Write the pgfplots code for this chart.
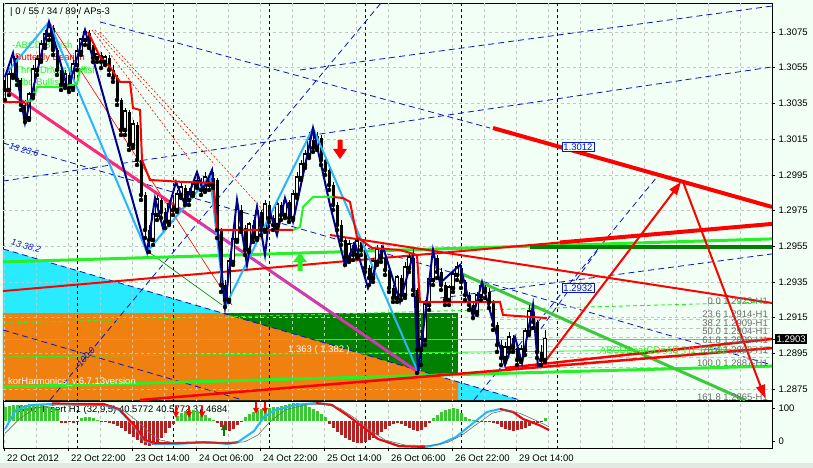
\documentclass[border=0pt]{standalone}
\usepackage{fontspec}
\setmainfont{Liberation Sans}
\usepackage{pgfplots}
\usepackage{pgfplotstable}
\pgfplotsset{compat=1.18}
\usetikzlibrary{arrows.meta}

\definecolor{chartbg}{RGB}{242,255,245}
\definecolor{stripgray}{RGB}{226,232,226}
\definecolor{bidgray}{RGB}{160,160,160}
\definecolor{siggray}{RGB}{110,110,110}
\definecolor{gridgray}{RGB}{196,196,196}
\definecolor{cyanfill}{RGB}{40,235,255}
\definecolor{orangefill}{RGB}{240,128,16}
\definecolor{dkgreen}{RGB}{0,128,0}
\definecolor{limeg}{RGB}{40,240,40}
\definecolor{midgreen}{RGB}{60,200,60}
\definecolor{navyz}{RGB}{0,0,140}
\definecolor{navyd}{RGB}{10,20,200}
\definecolor{ltblue}{RGB}{40,180,255}
\definecolor{redl}{RGB}{255,0,0}
\definecolor{pinkl}{RGB}{255,40,120}
\definecolor{violetl}{RGB}{140,80,255}
\definecolor{histgreen}{RGB}{60,200,50}
\definecolor{histred}{RGB}{178,34,34}
\definecolor{fibgray}{RGB}{110,110,110}

\pgfplotsset{
  gridl/.style={draw=gridgray, dash pattern=on 3pt off 3pt, line width=0.6pt},
  daysep/.style={draw=black, dash pattern=on 3pt off 3pt, line width=0.7pt},
  bluedash/.style={draw=navyd, dash pattern=on 6pt off 4pt, line width=0.8pt},
  bull/.style={restrict expr to domain={\thisrow{C}-\thisrow{O}}{0:1}},
  bear/.style={restrict expr to domain={\thisrow{O}-\thisrow{C}}{0.000001:1}},
}

% arrow-shaped plot marks
\pgfdeclareplotmark{bigdown}{%
  \pgfpathmoveto{\pgfqpoint{-2.5pt}{10pt}}\pgfpathlineto{\pgfqpoint{2.5pt}{10pt}}%
  \pgfpathlineto{\pgfqpoint{2.5pt}{1pt}}\pgfpathlineto{\pgfqpoint{7pt}{1pt}}%
  \pgfpathlineto{\pgfqpoint{0pt}{-9pt}}\pgfpathlineto{\pgfqpoint{-7pt}{1pt}}%
  \pgfpathlineto{\pgfqpoint{-2.5pt}{1pt}}\pgfpathclose\pgfusepathqfill}
\pgfdeclareplotmark{bigup}{%
  \pgfpathmoveto{\pgfqpoint{-2.5pt}{-9pt}}\pgfpathlineto{\pgfqpoint{2.5pt}{-9pt}}%
  \pgfpathlineto{\pgfqpoint{2.5pt}{0pt}}\pgfpathlineto{\pgfqpoint{7pt}{0pt}}%
  \pgfpathlineto{\pgfqpoint{0pt}{9pt}}\pgfpathlineto{\pgfqpoint{-7pt}{0pt}}%
  \pgfpathlineto{\pgfqpoint{-2.5pt}{0pt}}\pgfpathclose\pgfusepathqfill}
\pgfdeclareplotmark{smalldown}{%
  \pgfsetlinewidth{1.2pt}%
  \pgfpathmoveto{\pgfqpoint{0pt}{6pt}}\pgfpathlineto{\pgfqpoint{0pt}{-1pt}}\pgfusepathqstroke
  \pgfpathmoveto{\pgfqpoint{-3pt}{0pt}}\pgfpathlineto{\pgfqpoint{3pt}{0pt}}%
  \pgfpathlineto{\pgfqpoint{0pt}{-6pt}}\pgfpathclose\pgfusepathqfill}
\pgfdeclareplotmark{smallup}{%
  \pgfsetlinewidth{1.2pt}%
  \pgfpathmoveto{\pgfqpoint{0pt}{-6pt}}\pgfpathlineto{\pgfqpoint{0pt}{1pt}}\pgfusepathqstroke
  \pgfpathmoveto{\pgfqpoint{-3pt}{0pt}}\pgfpathlineto{\pgfqpoint{3pt}{0pt}}%
  \pgfpathlineto{\pgfqpoint{0pt}{6pt}}\pgfpathclose\pgfusepathqfill}

% EURUSD H1 candles: bar position, open, high, low, close
\pgfplotstableread{
x O H L C
5 1.30481 1.30509 1.30369 1.30425
9 1.30425 1.30537 1.30397 1.30509
13 1.30509 1.30638 1.30492 1.30604
17 1.30604 1.30621 1.30453 1.30481
21 1.30481 1.30492 1.30313 1.30341
25 1.30341 1.30369 1.30246 1.30268
29 1.30268 1.30414 1.30257 1.30397
33 1.30397 1.30565 1.30380 1.30537
37 1.30537 1.30621 1.30509 1.30593
41 1.30593 1.30705 1.30582 1.30677
45 1.30677 1.30761 1.30660 1.30733
49 1.30733 1.30806 1.30705 1.30772
53 1.30772 1.30789 1.30621 1.30649
57 1.30649 1.30660 1.30509 1.30537
61 1.30537 1.30565 1.30425 1.30453
65 1.30453 1.30537 1.30436 1.30509
69 1.30509 1.30526 1.30414 1.30436
73 1.30436 1.30593 1.30425 1.30565
77 1.30565 1.30660 1.30537 1.30638
81 1.30638 1.30716 1.30621 1.30705
85 1.30705 1.30761 1.30677 1.30744
89 1.30744 1.30761 1.30660 1.30677
93 1.30677 1.30694 1.30582 1.30604
97 1.30604 1.30649 1.30582 1.30621
101 1.30621 1.30638 1.30548 1.30582
105 1.30582 1.30621 1.30565 1.30604
109 1.30604 1.30621 1.30509 1.30537
113 1.30537 1.30565 1.30470 1.30492
117 1.30492 1.30509 1.30341 1.30369
121 1.30369 1.30380 1.30173 1.30201
125 1.30201 1.30324 1.30173 1.30302
129 1.30302 1.30313 1.30089 1.30117
133 1.30117 1.30257 1.30100 1.30229
137 1.30229 1.30246 1.30005 1.30033
141 1.30033 1.30044 1.29809 1.29837
145 1.29837 1.29854 1.29596 1.29641
149 1.29641 1.29669 1.29518 1.29585
153 1.29585 1.29753 1.29557 1.29725
157 1.29725 1.29837 1.29697 1.29809
161 1.29809 1.29820 1.29708 1.29742
165 1.29742 1.29764 1.29652 1.29686
169 1.29686 1.29809 1.29669 1.29781
173 1.29781 1.29820 1.29725 1.29753
177 1.29753 1.29865 1.29742 1.29837
181 1.29837 1.29910 1.29820 1.29876
185 1.29876 1.29893 1.29781 1.29809
189 1.29809 1.29876 1.29781 1.29848
193 1.29848 1.29921 1.29831 1.29893
197 1.29893 1.29949 1.29876 1.29910
201 1.29910 1.29932 1.29837 1.29865
205 1.29865 1.29966 1.29854 1.29932
209 1.29932 1.29949 1.29865 1.29893
213 1.29893 1.29966 1.29876 1.29921
217 1.29921 1.29932 1.29596 1.29641
221 1.29641 1.29652 1.29294 1.29333
225 1.29333 1.29361 1.29210 1.29249
229 1.29249 1.29484 1.29238 1.29462
233 1.29462 1.29613 1.29445 1.29585
237 1.29585 1.29809 1.29574 1.29753
241 1.29753 1.29781 1.29630 1.29652
245 1.29652 1.29669 1.29501 1.29529
249 1.29529 1.29686 1.29518 1.29669
253 1.29669 1.29697 1.29574 1.29596
257 1.29596 1.29764 1.29585 1.29742
261 1.29742 1.29753 1.29613 1.29641
265 1.29641 1.29809 1.29630 1.29781
269 1.29781 1.29798 1.29686 1.29708
273 1.29708 1.29725 1.29641 1.29669
277 1.29669 1.29809 1.29652 1.29781
281 1.29781 1.29798 1.29697 1.29725
285 1.29725 1.29820 1.29708 1.29798
289 1.29798 1.29809 1.29686 1.29708
293 1.29708 1.29865 1.29697 1.29837
297 1.29837 1.29966 1.29820 1.29932
301 1.29932 1.30033 1.29921 1.30005
305 1.30005 1.30089 1.29988 1.30061
309 1.30061 1.30190 1.30044 1.30145
313 1.30145 1.30212 1.30078 1.30100
317 1.30100 1.30190 1.30089 1.30156
321 1.30156 1.30173 1.30005 1.30033
325 1.30033 1.30061 1.29949 1.29977
329 1.29977 1.29988 1.29865 1.29893
333 1.29893 1.29910 1.29753 1.29781
337 1.29781 1.29798 1.29641 1.29669
341 1.29669 1.29697 1.29557 1.29585
345 1.29585 1.29596 1.29445 1.29484
349 1.29484 1.29585 1.29462 1.29557
353 1.29557 1.29574 1.29473 1.29501
357 1.29501 1.29596 1.29484 1.29574
361 1.29574 1.29596 1.29501 1.29529
365 1.29529 1.29540 1.29406 1.29428
369 1.29428 1.29445 1.29333 1.29372
373 1.29372 1.29484 1.29350 1.29462
377 1.29462 1.29557 1.29445 1.29529
381 1.29529 1.29557 1.29462 1.29484
385 1.29484 1.29501 1.29389 1.29417
389 1.29417 1.29428 1.29294 1.29316
393 1.29316 1.29333 1.29238 1.29260
397 1.29260 1.29389 1.29238 1.29372
401 1.29372 1.29389 1.29249 1.29277
405 1.29277 1.29462 1.29260 1.29428
409 1.29428 1.29518 1.29406 1.29484
413 1.29484 1.29501 1.29277 1.29305
417 1.29305 1.29316 1.28840 1.28969
421 1.28969 1.29081 1.28885 1.29025
425 1.29025 1.29249 1.28997 1.29221
429 1.29221 1.29389 1.29193 1.29361
433 1.29361 1.29529 1.29333 1.29484
437 1.29484 1.29501 1.29372 1.29406
441 1.29406 1.29428 1.29305 1.29333
445 1.29333 1.29350 1.29221 1.29249
449 1.29249 1.29333 1.29221 1.29316
453 1.29316 1.29417 1.29294 1.29389
457 1.29389 1.29462 1.29361 1.29428
461 1.29428 1.29445 1.29316 1.29350
465 1.29350 1.29361 1.29249 1.29277
469 1.29277 1.29294 1.29193 1.29221
473 1.29221 1.29238 1.29148 1.29182
477 1.29182 1.29294 1.29165 1.29271
481 1.29271 1.29350 1.29249 1.29322
485 1.29322 1.29333 1.29260 1.29294
489 1.29294 1.29316 1.29204 1.29238
493 1.29238 1.29249 1.29081 1.29109
497 1.29109 1.29126 1.28958 1.28997
501 1.28997 1.29025 1.28885 1.28924
505 1.28924 1.29014 1.28902 1.28980
509 1.28980 1.29070 1.28958 1.29036
513 1.29036 1.29053 1.28958 1.28980
517 1.28980 1.28997 1.28885 1.28913
521 1.28913 1.28997 1.28902 1.28969
525 1.28969 1.29092 1.28941 1.29070
529 1.29070 1.29221 1.29053 1.29182
533 1.29182 1.29204 1.29092 1.29126
537 1.29126 1.29137 1.28924 1.28958
541 1.28958 1.28997 1.28885 1.28913
545 1.28913 1.29081 1.28902 1.29030
}\candles

% oscillator histogram (distance from its zero line)
\pgfplotstableread{
x h
5 14
9 15
13 16
17 16
21 15
25 16
29 17
33 16
37 15
41 16
45 15
49 14
53 13
57 11
61 -2
65 -2
69 -1
73 -2
77 -1
81 3
85 4
89 4
93 3
97 1
101 -1
105 -1
109 -2
113 -3
117 -5
121 -7
125 -10
129 -13
133 -16
137 -19
141 -22
145 -24
149 -25
153 -24
157 -21
161 -17
165 -12
169 -7
173 -3
177 5
181 8
185 10
189 11
193 11
197 10
201 8
205 6
209 3
213 1
217 -2
221 -6
225 -9
229 -10
233 -8
237 -4
241 -1
245 4
249 7
253 9
257 11
261 12
265 13
269 13
273 14
277 14
281 15
285 16
289 17
293 18
297 18
301 17
305 16
309 14
313 12
317 10
321 7
325 4
329 -3
333 -7
337 -11
341 -14
345 -17
349 -19
353 -21
357 -22
361 -22
365 -21
369 -19
373 -17
377 -14
381 -11
385 -8
389 -5
393 -3
397 -2
401 -3
405 -5
409 -7
413 -9
417 -10
421 -9
425 -6
429 -2
433 3
437 6
441 9
445 11
449 12
453 13
457 12
461 8
465 4
469 2
473 1
477 -1
481 -1
485 -1
489 -1
493 -2
497 -3
501 -6
505 -8
509 -9
513 -10
517 -9
521 -8
525 -7
529 -5
533 -3
537 -2
541 -1
545 3
}\histo

\begin{document}
\begin{tikzpicture}
\useasboundingbox (0,0) rectangle (813pt,-468pt);
\fill[chartbg] (0,0) rectangle (813pt,-468pt);
\fill[stripgray] (0,-463pt) rectangle (813pt,-468pt);

% ---------------- price panel ----------------
\begin{axis}[
  at={(3pt,-3pt)}, anchor=north west, scale only axis,
  width=769pt, height=397pt,
  xmin=3, xmax=772, ymin=1.28689, ymax=1.30912,
  xtick=\empty,
  ytick={1.2875,1.2895,1.2915,1.2935,1.2955,1.2975,1.2995,1.3015,1.3035,1.3055,1.3075},
  ytick pos=right, tick align=outside, major tick length=3pt,
  yticklabel={\pgfmathprintnumber[fixed,fixed zerofill,precision=4]{\tick}},
  /pgf/number format/assume math mode=true,
  tick label style={font=\fontsize{9.5}{11}\selectfont},
  tick style={black, line width=0.6pt},
  axis line style={black, line width=0.8pt},
  extra y ticks={1.2903}, extra y tick labels={1.2903},
  extra y tick style={yticklabel style={fill=black, text=white, inner sep=1.5pt}},
]
% shaded zones
\addplot[fill=cyanfill, draw=none] coordinates {(3,1.29535) (520,1.28689) (3,1.28689)} -- cycle;
\addplot[fill=dkgreen, draw=none] coordinates {(222,1.29176) (458,1.29176) (458,1.28829) (222,1.28829)} -- cycle;
\addplot[fill=orangefill, draw=none] coordinates {(3,1.29176) (222,1.29176) (458,1.28790) (458,1.28689) (3,1.28689)} -- cycle;

% grid and day separators
\pgfplotsinvokeforeach{1.2875,1.2895,1.2915,1.2935,1.2955,1.2975,1.2995,1.3015,1.3035,1.3055,1.3075}{
  \addplot[gridl] coordinates {(3,#1) (772,#1)};}
\pgfplotsinvokeforeach{4.7,36.7,68.7,100.7,132.7,164.7,196.7,228.7,260.7,292.7,324.7,356.7,388.7,420.7,452.7,484.7,516.7,548.7,580.7,612.7,644.7,676.7,708.7,740.7}{
  \addplot[gridl] coordinates {(#1,1.2868) (#1,1.3092)};}
\pgfplotsinvokeforeach{77,173,269,365,461,557}{
  \addplot[daysep] coordinates {(#1,1.2868) (#1,1.3092)};}

% bid line
\addplot[draw=bidgray, line width=0.8pt] coordinates {(3,1.2903) (772,1.2903)};

% channel and fan lines
\addplot[bluedash] coordinates {(3,1.29915) (772,1.30554)};
\addplot[bluedash] coordinates {(100,1.30806) (490,1.30212)};
\addplot[bluedash] coordinates {(300,1.30537) (772,1.30895)};
\addplot[bluedash] coordinates {(3,1.30128) (772,1.28885)};
\addplot[bluedash] coordinates {(3,1.29535) (520,1.28689)};
\addplot[bluedash] coordinates {(3,1.29081) (243,1.28689)};
\addplot[bluedash] coordinates {(440,1.29260) (772,1.29507)};
\addplot[bluedash] coordinates {(50,1.28689) (381,1.30912)};
\addplot[bluedash] coordinates {(474,1.28689) (657,1.29938)};
\addplot[bluedash] coordinates {(535,1.29042) (600,1.29546)};

% Fibonacci retracement levels
\pgfplotsinvokeforeach{1.2914,1.2909,1.2904,1.2899,1.2893,1.2887}{
  \addplot[draw=gridgray, dash pattern=on 4pt off 3pt, line width=0.7pt] coordinates {(500,#1) (772,#1)};}
\addplot[draw=limeg, dash pattern=on 4pt off 3pt, line width=0.9pt] coordinates {(3,1.29120) (772,1.29238)};
\addplot[draw=limeg, line width=0.8pt] coordinates {(3,1.28930) (772,1.28975)};

% pattern names
\node[anchor=west, inner sep=0pt, text=limeg, font=\fontsize{9.5}{11}\selectfont] at (axis cs:12,1.30677) {-ABCD Bullish};
\node[anchor=west, inner sep=0pt, text=redl, font=\fontsize{9.5}{11}\selectfont] at (axis cs:15,1.30604) {Butterfly Bearish};
\node[anchor=west, inner sep=0pt, text=limeg, font=\fontsize{9.5}{11}\selectfont] at (axis cs:15,1.30537) {ThreeDrives Bullish};
\node[anchor=west, inner sep=0pt, text=limeg, font=\fontsize{9.5}{11}\selectfont] at (axis cs:15,1.30470) {Fibo Bullish};

% thin pattern legs
\addplot[draw=redl, line width=0.6pt] coordinates {(50,1.30800) (232,1.29221)};
\addplot[draw=redl, dash pattern=on 2pt off 2pt, line width=0.6pt] coordinates {(92,1.30761) (190,1.30033)};
\addplot[draw=redl, dash pattern=on 2pt off 2pt, line width=0.6pt] coordinates {(95,1.30761) (215,1.30005)};
\addplot[draw=redl, dash pattern=on 2pt off 2pt, line width=0.6pt] coordinates {(100,1.30750) (265,1.29742)};
\addplot[draw=dkgreen, line width=0.6pt] coordinates {(150,1.29512) (222,1.29221)};

% trend lines
\addplot[draw=pinkl, line width=3pt] coordinates {(3,1.30436) (418,1.28846)};
\addplot[draw=violetl, line width=1pt] coordinates {(200,1.29681) (418,1.28846)};
\addplot[draw=limeg, line width=3pt] coordinates {(3,1.29462) (772,1.29591)};
\addplot[draw=dkgreen, line width=4pt] coordinates {(530,1.29546) (772,1.29546)};
\addplot[draw=limeg, line width=3pt] coordinates {(3,1.28762) (772,1.28879)};
\addplot[draw=midgreen, line width=3pt] coordinates {(460,1.29400) (745,1.28689)};
\addplot[draw=redl, line width=4pt] coordinates {(493,1.30212) (772,1.29770)};
\addplot[draw=redl, line width=2pt] coordinates {(330,1.29613) (772,1.29232)};
\addplot[draw=redl, line width=2pt] coordinates {(3,1.29299) (560,1.29571)};
\addplot[draw=redl, line width=4pt] coordinates {(560,1.29571) (772,1.29675)};
\addplot[draw=redl, line width=2.5pt] coordinates {(140,1.28689) (772,1.28980)};
\addplot[draw=redl, line width=2.5pt] coordinates {(505,1.28868) (772,1.29031)};

% candles: wicks, bearish bodies, bullish bodies
\addplot[only marks, mark=none, error bars/.cd, y dir=plus, y explicit, error mark=none,
  error bar style={draw=black, line width=0.8pt}]
  table[x=x, y=L, y error expr=\thisrow{H}-\thisrow{L}] {\candles};
\addplot[only marks, mark=none, bear, error bars/.cd, y dir=plus, y explicit, error mark=none,
  error bar style={draw=black, line width=3pt}]
  table[x=x, y=C, y error expr=\thisrow{O}-\thisrow{C}] {\candles};
\addplot[only marks, mark=none, bull, error bars/.cd, y dir=plus, y explicit, error mark=none,
  error bar style={draw=black, line width=3.2pt, line cap=rect}]
  table[x=x, y=O, y error expr=\thisrow{C}-\thisrow{O}] {\candles};
\addplot[only marks, mark=none, bull, error bars/.cd, y dir=plus, y explicit, error mark=none,
  error bar style={draw=white, line width=1.3pt}]
  table[x=x, y=O, y error expr=\thisrow{C}-\thisrow{O}] {\candles};

% zigzags
\addplot[draw=ltblue, line width=2pt] coordinates {
  (5,1.30509) (49,1.30806) (147,1.29518) (210,1.29944) (225,1.29210) (313,1.30212) (418,1.28846)};
\addplot[draw=navyz, line width=2pt] coordinates {
  (5,1.30498) (13,1.30632) (25,1.30240) (49,1.30806) (68,1.30425) (85,1.30761)
  (147,1.29518) (155,1.29820) (163,1.29652) (176,1.29910) (185,1.29781) (197,1.29966)
  (203,1.29865) (212,1.29977) (225,1.29210) (237,1.29809) (247,1.29445) (257,1.29770)
  (265,1.29501) (270,1.29742) (277,1.29613) (285,1.29820) (293,1.29686) (313,1.30212)
  (330,1.29781) (345,1.29445) (355,1.29568) (368,1.29316) (383,1.29546) (400,1.29238)
  (413,1.29501) (418,1.28840) (433,1.29529) (440,1.29344) (460,1.29445) (473,1.29154)
  (482,1.29350) (505,1.28885) (515,1.29042) (522,1.28896) (533,1.29221) (538,1.28874)};

% trailing stop steps
\addplot[draw=redl, line width=2pt] coordinates {(3,1.30358) (30,1.30358)};
\addplot[draw=redl, line width=2pt] coordinates {
  (88,1.30750) (100,1.30610) (110,1.30554) (120,1.30470) (130,1.30470) (133,1.30324)
  (140,1.30313) (142,1.30033) (150,1.29921) (183,1.29910) (213,1.29904) (217,1.29641)
  (293,1.29641)};
\addplot[draw=redl, line width=2pt] coordinates {
  (333,1.29826) (343,1.29820) (350,1.29798) (353,1.29714) (357,1.29602) (372,1.29540)
  (400,1.29529) (417,1.29501) (420,1.29238) (500,1.29238) (503,1.29165) (547,1.29148)};
\addplot[draw=limeg, line width=2pt] coordinates {
  (25,1.30358) (33,1.30369) (37,1.30442) (62,1.30442) (77,1.30459) (80,1.30537) (86,1.30548)};
\addplot[draw=limeg, line width=2pt] coordinates {
  (293,1.29641) (300,1.29658) (303,1.29770) (313,1.29826) (333,1.29826)};

% projection arrows
\addplot[draw=redl, line width=2pt, -{Triangle[length=13pt,width=9pt]}] coordinates {(540,1.28868) (681,1.29910)};
\addplot[draw=redl, line width=2pt, -{Triangle[length=13pt,width=9pt]}] coordinates {(683,1.29910) (765,1.28700)};

% signal arrows
\addplot[only marks, mark=bigdown, mark options={fill=redl, draw=none}] coordinates {(340,1.30089)};
\addplot[only marks, mark=bigup, mark options={fill=limeg, draw=none}] coordinates {(300,1.29462)};

% labels
\node[anchor=west, inner sep=0pt, font=\fontsize{9.5}{11}\selectfont] at (axis cs:10,1.30862) {| 0 / 55 / 34 / 89 / APs-3};
\node[anchor=west, inner sep=0pt, text=white, font=\fontsize{9.5}{11}\selectfont] at (axis cs:8,1.28790) {korHarmonics\_v.6.7.13version};
\node[inner sep=0pt, text=white, font=\fontsize{9.5}{11}\selectfont] at (axis cs:319,1.28969) {1.363 ( 1.382 )};
\node[draw=navyd, fill=chartbg, text=navyd, inner sep=1.2pt, font=\fontsize{9.5}{11}\selectfont] at (axis cs:578,1.30106) {1.3012};
\node[draw=navyd, fill=chartbg, text=navyd, inner sep=1.2pt, font=\fontsize{9.5}{11}\selectfont] at (axis cs:578,1.29316) {1.2932};
\node[rotate=-16, text=navyd, inner sep=0pt, font=\itshape\fontsize{9}{10}\selectfont] at (axis cs:24,1.30089) {13 23.6};
\node[rotate=-16, text=navyd, inner sep=0pt, font=\itshape\fontsize{9}{10}\selectfont] at (axis cs:26,1.29551) {13 38.2};
\node[rotate=50, text=navyd, inner sep=0pt, font=\itshape\fontsize{9}{10}\selectfont] at (axis cs:86,1.28930) {100.0};
\node[anchor=west, inner sep=0pt, text=limeg, font=\fontsize{9.5}{11}\selectfont] at (axis cs:600,1.28963) {ABCDBearCD=AB\_H1 1.2892};
\node[anchor=east, inner sep=0pt, text=fibgray, font=\fontsize{9.5}{11}\selectfont] at (axis cs:768,1.29243) {0.0 1.2923-H1};
\node[anchor=east, inner sep=0pt, text=fibgray, font=\fontsize{9.5}{11}\selectfont] at (axis cs:768,1.29171) {23.6 1.2914-H1};
\node[anchor=east, inner sep=0pt, text=fibgray, font=\fontsize{9.5}{11}\selectfont] at (axis cs:768,1.29120) {38.2 1.2909-H1};
\node[anchor=east, inner sep=0pt, text=fibgray, font=\fontsize{9.5}{11}\selectfont] at (axis cs:768,1.29075) {50.0 1.2904-H1};
\node[anchor=east, inner sep=0pt, text=fibgray, font=\fontsize{9.5}{11}\selectfont] at (axis cs:768,1.29025) {61.8 1.2899-H1};
\node[anchor=east, inner sep=0pt, text=fibgray, font=\fontsize{9.5}{11}\selectfont] at (axis cs:768,1.28969) {76.4 1.2893-H1};
\node[anchor=east, inner sep=0pt, text=fibgray, font=\fontsize{9.5}{11}\selectfont] at (axis cs:768,1.28896) {100.0 1.2887-H1};
\node[anchor=east, inner sep=0pt, text=fibgray, font=\fontsize{9.5}{11}\selectfont] at (axis cs:768,1.28706) {161.8 1.2865-H1};
\end{axis}

% ---------------- oscillator panel: histogram ----------------
\begin{axis}[
  at={(3pt,-401.7pt)}, anchor=north west, scale only axis,
  width=769pt, height=46.6pt,
  xmin=3, xmax=772, ymin=-27.3, ymax=19.3, hide axis,
]
\pgfplotsinvokeforeach{4.7,36.7,68.7,100.7,132.7,164.7,196.7,228.7,260.7,292.7,324.7,356.7,388.7,420.7,452.7,484.7,516.7,548.7,580.7,612.7,644.7,676.7,708.7,740.7}{
  \addplot[gridl] coordinates {(#1,-28) (#1,20)};}
\pgfplotsinvokeforeach{77,173,269,365,461,557}{
  \addplot[daysep] coordinates {(#1,-28) (#1,20)};}
\node[anchor=west, inner sep=0pt, font=\fontsize{9.5}{11}\selectfont] at (axis cs:18,11) {StochInsert H1 (32,9,5) 40.5772 40.5772 37.4684};
\addplot[ycomb, draw=histgreen, line width=3pt, restrict y to domain=0:100] table[x=x, y=h] {\histo};
\addplot[ycomb, draw=histred, line width=3pt, restrict y to domain=-100:-0.5] table[x=x, y=h] {\histo};
\end{axis}

% ---------------- oscillator panel: lines and time axis ----------------
\begin{axis}[
  at={(3pt,-401.7pt)}, anchor=north west, scale only axis,
  width=769pt, height=46.6pt,
  xmin=3, xmax=772, ymin=-19.8, ymax=119.8,
  ytick={0,100}, ytick pos=right, xtick pos=bottom,
  tick align=outside, major tick length=3pt,
  xtick={4.7,68.7,132.7,196.7,260.7,324.7,388.7,452.7,516.7},
  xticklabels={22 Oct 2012,22 Oct 22:00,23 Oct 14:00,24 Oct 06:00,24 Oct 22:00,25 Oct 14:00,26 Oct 06:00,26 Oct 22:00,29 Oct 14:00},
  xticklabel style={anchor=north west, xshift=-1pt},
  /pgf/number format/assume math mode=true,
  tick label style={font=\fontsize{9.5}{11}\selectfont},
  tick style={black, line width=0.6pt},
  axis line style={black, line width=0.8pt},
]
\addplot[draw=ltblue, line width=2pt] coordinates {
  (5,38) (16,95) (31,110) (52,113) (78,110) (104,110) (119,95) (135,44) (145,2) (155,-7)
  (176,-7) (207,-1) (228,-7) (238,-1) (254,32) (264,74) (275,95) (295,110) (316,116)
  (332,110) (347,80) (363,44) (378,8) (399,-13) (425,-16) (440,-7) (456,14) (472,53)
  (487,89) (500,98) (513,89) (523,68) (539,50) (549,35)};
\addplot[draw=redl, line width=2pt] coordinates {
  (52,115) (78,113) (104,113) (119,98) (135,47) (145,5) (155,-4) (176,-4) (200,-2) (228,-4) (238,-2)};
\addplot[draw=redl, line width=2pt] coordinates {
  (316,116) (332,110) (347,80) (363,44) (378,8) (399,-13) (425,-16)};
\addplot[draw=redl, line width=2pt] coordinates {
  (500,98) (513,89) (523,68) (539,50) (549,35)};
\addplot[draw=siggray, line width=0.6pt] coordinates {
  (5,25) (20,70) (35,100) (60,112) (110,108) (125,90) (140,55) (150,25) (160,5) (175,-4)
  (230,-4) (245,0) (258,20) (270,60) (285,95) (305,110) (325,112) (340,100) (355,70)
  (370,35) (385,5) (405,-10) (430,-12) (448,-2) (462,20) (478,55) (492,85) (506,95)
  (520,85) (535,65) (549,45)};
\addplot[only marks, mark=smalldown, mark options={fill=redl, draw=redl}] coordinates {(176,89) (189,89) (202,89) (256,101) (265,101)};
\addplot[only marks, mark=smallup, mark options={fill=dkgreen, draw=dkgreen}] coordinates {(224,35)};
\end{axis}
\end{tikzpicture}
\end{document}
